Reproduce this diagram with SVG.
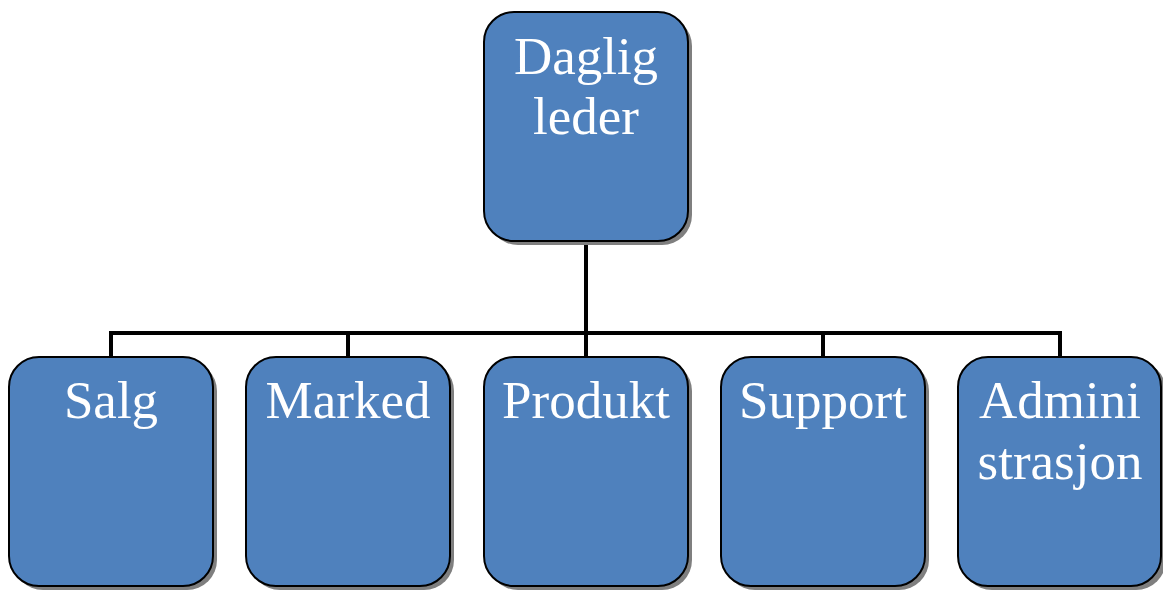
<svg xmlns="http://www.w3.org/2000/svg" width="1163" height="590" viewBox="0 0 1163 590">
<defs>
<style>
.shadow{fill:#7f7f7f;}
.box{fill:#4f81bd;stroke:#000;stroke-width:2;}
.lbl{font-family:"Liberation Serif","Times New Roman",serif;font-size:53px;fill:#fff;text-anchor:middle;}
.conn{fill:none;stroke:#000;stroke-width:4;}
</style>
</defs>
<rect width="1163" height="590" fill="#fff"/>
<g id="connectors">
<path class="conn" d="M586 241V333M111 333H1060M111 331V357M348 331V357M586 331V357M823 331V357M1060 331V357"/>
</g>
<g id="node-daglig">
<rect class="shadow" x="488" y="16" width="204" height="229" rx="30"/>
<rect class="box" x="484" y="12" width="204" height="229" rx="30"/>
<text class="lbl" x="586" y="74">Daglig</text>
<text class="lbl" x="586" y="134">leder</text>
</g>
<g id="node-salg">
<rect class="shadow" x="13" y="361" width="204" height="229" rx="30"/>
<rect class="box" x="9" y="357" width="204" height="229" rx="30"/>
<text class="lbl" x="111" y="418">Salg</text>
</g>
<g id="node-marked">
<rect class="shadow" x="250" y="361" width="204" height="229" rx="30"/>
<rect class="box" x="246" y="357" width="204" height="229" rx="30"/>
<text class="lbl" x="348" y="418">Marked</text>
</g>
<g id="node-produkt">
<rect class="shadow" x="488" y="361" width="204" height="229" rx="30"/>
<rect class="box" x="484" y="357" width="204" height="229" rx="30"/>
<text class="lbl" x="586" y="418">Produkt</text>
</g>
<g id="node-support">
<rect class="shadow" x="725" y="361" width="204" height="229" rx="30"/>
<rect class="box" x="721" y="357" width="204" height="229" rx="30"/>
<text class="lbl" x="823" y="418">Support</text>
</g>
<g id="node-admin">
<rect class="shadow" x="962" y="361" width="204" height="229" rx="30"/>
<rect class="box" x="958" y="357" width="203" height="229" rx="30"/>
<text class="lbl" x="1060" y="418">Admini</text>
<text class="lbl" x="1060" y="479">strasjon</text>
</g>
</svg>
